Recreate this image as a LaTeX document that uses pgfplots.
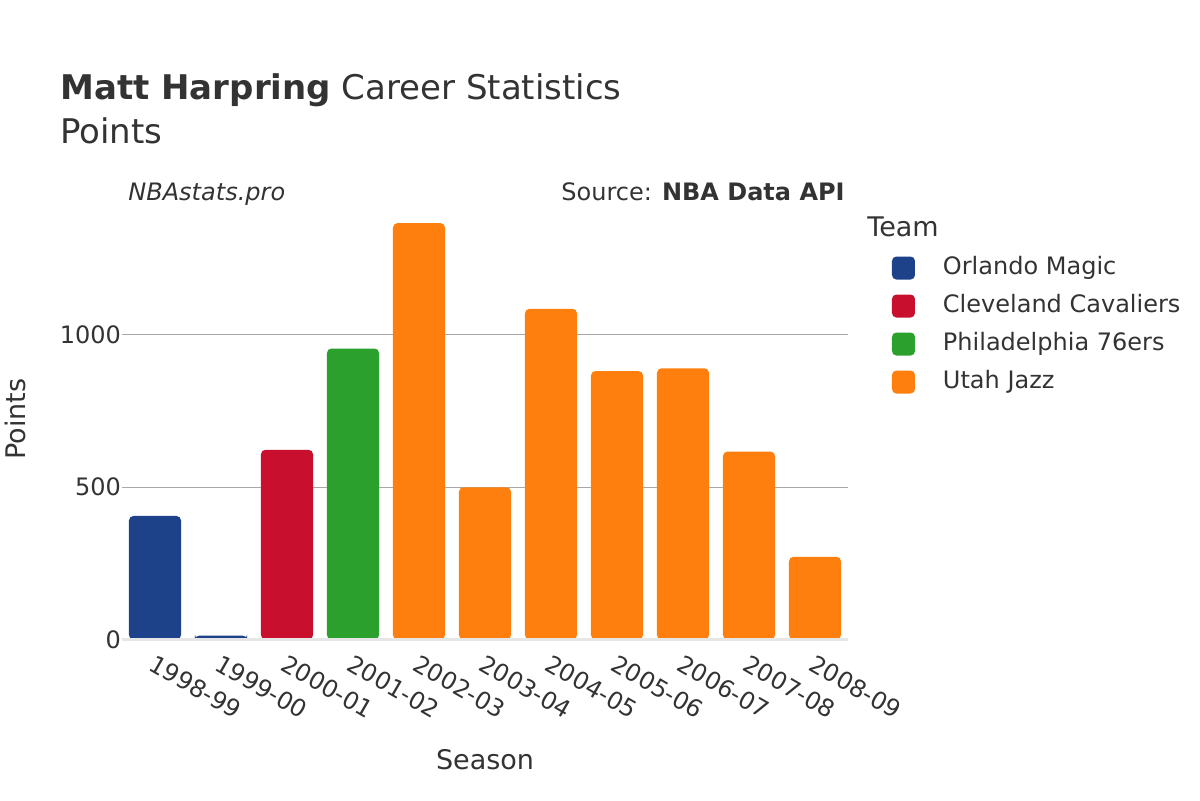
\documentclass[border=0pt]{standalone}
\usepackage{fontspec}
\setmainfont{DejaVu Sans}
\usepackage{pgfplots}
\pgfplotsset{compat=1.18}
\definecolor{txt}{HTML}{333333}
\definecolor{orl}{HTML}{1D428A}
\definecolor{cle}{HTML}{C8102E}
\definecolor{phi}{HTML}{2CA02C}
\definecolor{uta}{HTML}{FF7F0E}
\definecolor{gridc}{HTML}{A8A8A8}
\definecolor{zeroc}{HTML}{E6E6E6}
\begin{document}
\begin{tikzpicture}[font=\fontsize{12}{14}\selectfont, text=txt]
\path[use as bounding box] (0,0) rectangle (600pt,-400pt);
\begin{axis}[
  at={(61pt,-319.75pt)}, anchor=south west,
  width=363pt, height=219pt, scale only axis,
  xmin=-0.5, xmax=10.5, ymin=0, ymax=1436,
  axis line style={draw=none},
  major tick length=0pt,
  ytick={0,500,1000},
  ymajorgrids, grid style={gridc, line width=0.5pt},
  xtick={0,1,2,3,4,5,6,7,8,9,10},
  xticklabels={1998-99,1999-00,2000-01,2001-02,2002-03,2003-04,2004-05,2005-06,2006-07,2007-08,2008-09},
  xticklabel style={rotate=-30, anchor=north west, xshift=0.75pt, yshift=-2.25pt, text=txt, font=\fontsize{12}{14}\selectfont},
  yticklabel style={text=txt, font=\fontsize{12}{14}\selectfont, xshift=3pt},
  /pgf/number format/assume math mode=true,
  /pgf/number format/1000 sep={},
  ybar, bar width=0.788, bar shift=0pt,
  every axis plot/.append style={draw=none, rounded corners=2.2pt},
  legend image code/.code={\fill[#1, rounded corners=2.2pt] (0pt,-5.75pt) rectangle (11.5pt,5.75pt);},
  legend style={at={(1.0606,0.8744)}, anchor=north west, draw=none, fill=none,
    inner sep=0pt, outer sep=0pt, row sep=7.5pt,
    nodes={inner sep=0pt, text height=8.75pt, text depth=2.75pt, font=\fontsize{12}{14}\selectfont, text=txt},
    /tikz/every odd column/.append style={column sep=14pt}},
  legend cell align=left,
  clip=false,
]
\addplot[fill=orl] coordinates {(0,405) (1,13)};
\addlegendentry{Orlando Magic}
\addplot[fill=cle] coordinates {(2,622)};
\addlegendentry{Cleveland Cavaliers}
\addplot[fill=phi] coordinates {(3,954)};
\addlegendentry{Philadelphia 76ers}
\addplot[fill=uta] coordinates {(4,1365) (5,499) (6,1084) (7,880) (8,889) (9,616) (10,271)};
\addlegendentry{Utah Jazz}
\draw[zeroc, line width=1.3pt] (axis cs:-0.5,0) -- (axis cs:10.5,0);
\end{axis}
\node[anchor=base west, inner sep=0pt, font=\fontsize{17}{20}\selectfont] at (30pt,-49.5pt) {\textbf{Matt Harpring} Career Statistics};
\node[anchor=base west, inner sep=0pt, font=\fontsize{17}{20}\selectfont] at (30pt,-71.5pt) {Points};
\node[anchor=base west, inner sep=0pt, font=\itshape\fontsize{12}{14}\selectfont] at (64pt,-100pt) {NBAstats.pro};
\node[anchor=base east, inner sep=0pt] at (422.5pt,-100pt) {Source: \textbf{NBA Data API}};
\node[anchor=base west, inner sep=0pt, font=\fontsize{13.5}{16}\selectfont] at (433.5pt,-118pt) {Team};
\node[rotate=90, inner sep=0pt, font=\fontsize{13.5}{16}\selectfont] at (7.75pt,-209.5pt) {Points};
\node[inner sep=0pt, font=\fontsize{13.5}{16}\selectfont] at (242.5pt,-380pt) {Season};
\end{tikzpicture}
\end{document}
